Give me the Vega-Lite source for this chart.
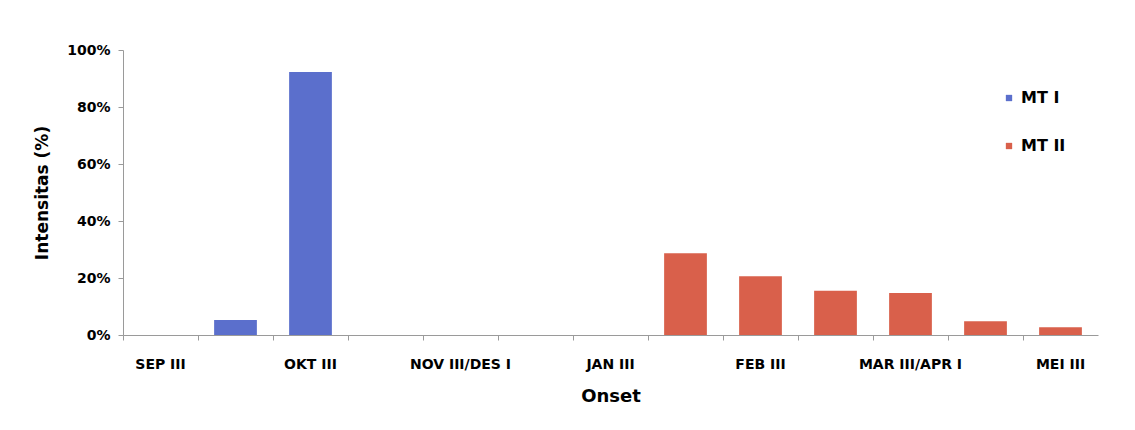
{
  "$schema": "https://vega.github.io/schema/vega-lite/v6.json",
  "autosize": "none",
  "width": 975,
  "height": 285,
  "padding": {"left": 123, "top": 50, "right": 37, "bottom": 95},
  "background": "white",
  "config": {
    "font": "DejaVu Sans",
    "view": {"stroke": null}
  },
  "data": {
    "values": [
      {"onset": "OKT I/II", "seri": "MT I", "intensitas": 0.053},
      {"onset": "OKT III", "seri": "MT I", "intensitas": 0.923},
      {"onset": "FEB I/II", "seri": "MT II", "intensitas": 0.287},
      {"onset": "FEB III", "seri": "MT II", "intensitas": 0.206},
      {"onset": "MAR I/II", "seri": "MT II", "intensitas": 0.155},
      {"onset": "MAR III/APR I", "seri": "MT II", "intensitas": 0.147},
      {"onset": "APR II/MEI II", "seri": "MT II", "intensitas": 0.048},
      {"onset": "MEI III", "seri": "MT II", "intensitas": 0.027}
    ]
  },
  "mark": {"type": "bar"},
  "encoding": {
    "x": {
      "field": "onset",
      "type": "nominal",
      "sort": null,
      "scale": {
        "domain": ["SEP III", "OKT I/II", "OKT III", "NOV I/II", "NOV III/DES I", "DES II/JAN II", "JAN III", "FEB I/II", "FEB III", "MAR I/II", "MAR III/APR I", "APR II/MEI II", "MEI III"],
        "paddingInner": 0.43,
        "paddingOuter": 0.215
      },
      "axis": {
        "title": "Onset",
        "titleFontSize": 18,
        "titleFontWeight": "bold",
        "titleColor": "black",
        "titlePadding": 16,
        "labelAngle": 0,
        "labelFontSize": 14,
        "labelFontWeight": "bold",
        "labelColor": "black",
        "labelPadding": 17,
        "bandPosition": -0.377,
        "labelExpr": "indexof(['SEP III','OKT III','NOV III/DES I','JAN III','FEB III','MAR III/APR I','MEI III'], datum.value) >= 0 ? datum.value : ''",
        "domainColor": "#9a9a9a",
        "tickColor": "#9a9a9a",
        "tickSize": 5,
        "grid": false
      }
    },
    "y": {
      "field": "intensitas",
      "type": "quantitative",
      "scale": {"domain": [0, 1]},
      "axis": {
        "title": "Intensitas (%)",
        "titleFontSize": 17,
        "titleFontWeight": "bold",
        "titleColor": "black",
        "titlePadding": 15,
        "format": ".0%",
        "values": [0, 0.2, 0.4, 0.6, 0.8, 1],
        "labelFontSize": 14,
        "labelFontWeight": "bold",
        "labelColor": "black",
        "labelPadding": 8,
        "domainColor": "#9a9a9a",
        "tickColor": "#9a9a9a",
        "tickSize": 5,
        "grid": false
      }
    },
    "color": {
      "field": "seri",
      "type": "nominal",
      "scale": {"domain": ["MT I", "MT II"], "range": ["#5b6fcc", "#d9604b"]},
      "legend": {
        "title": null,
        "orient": "none",
        "legendX": 878,
        "legendY": 40,
        "symbolType": "square",
        "symbolSize": 40,
        "labelFontSize": 16,
        "labelFontWeight": "bold",
        "labelColor": "black",
        "rowPadding": 32,
        "labelOffset": 4
      }
    }
  }
}
